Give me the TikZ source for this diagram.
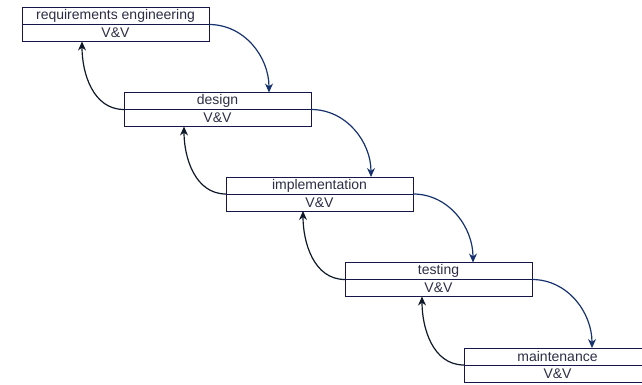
\documentclass[tikz,border=0pt]{standalone}
\usepackage{fontspec}
\setmainfont{Liberation Sans}
\usetikzlibrary{calc,arrows.meta}
\definecolor{boxc}{RGB}{22,22,72}
\definecolor{txtc}{RGB}{45,45,70}
\definecolor{fwdc}{RGB}{22,50,110}
\definecolor{backc}{RGB}{14,24,40}
\tikzset{
  part/.style={draw=boxc, line width=1pt, minimum width=187pt, minimum height=17pt,
    inner sep=0pt, outer sep=0pt, text=txtc, font=\fontsize{14}{15}\selectfont},
  fwd/.style={draw=fwdc, line width=1.2pt, -{Stealth[length=9pt,width=8pt]}},
  back/.style={draw=backc, line width=1.2pt, -{Stealth[length=9pt,width=8pt]}}
}
\begin{document}
\begin{tikzpicture}[x=1pt,y=-1pt]
\useasboundingbox (0,0) rectangle (642,385);
\clip (0,0) rectangle (642,385);
\node[part, anchor=north west] (t1) at (22,7.5) {requirements engineering};
\node[part, anchor=north] (v1) at (t1.south) {V\&V};
\node[part, anchor=north west] (t2) at (124,92.5) {design};
\node[part, anchor=north] (v2) at (t2.south) {V\&V};
\node[part, anchor=north west] (t3) at (226,177) {implementation};
\node[part, anchor=north] (v3) at (t3.south) {V\&V};
\node[part, anchor=north west] (t4) at (345,262.5) {testing};
\node[part, anchor=north] (v4) at (t4.south) {V\&V};
\node[part, anchor=north west] (t5) at (464,348) {maintenance};
\node[part, anchor=north] (v5) at (t5.south) {V\&V};
% forward arrow targets
\coordinate (f1) at ($(t1.south east)+(60,0)$);
\coordinate (f2) at ($(t2.south east)+(60,0)$);
\coordinate (f3) at ($(t3.south east)+(60,0)$);
\coordinate (f4) at ($(t4.south east)+(60,0)$);
% back arrow targets
\coordinate (b1) at ($(t2.south west)+(-42,0)$);
\coordinate (b2) at ($(t3.south west)+(-42,0)$);
\coordinate (b3) at ($(t4.south west)+(-42,0)$);
\coordinate (b4) at ($(t5.south west)+(-42,0)$);
\draw[fwd] (t1.south east) to[out=0,in=90] (f1 |- t2.north);
\draw[fwd] (t2.south east) to[out=0,in=90] (f2 |- t3.north);
\draw[fwd] (t3.south east) to[out=0,in=90] (f3 |- t4.north);
\draw[fwd] (t4.south east) to[out=0,in=90] (f4 |- t5.north);
\draw[back] (t2.south west) to[out=180,in=-90] (b1 |- v1.south);
\draw[back] (t3.south west) to[out=180,in=-90] (b2 |- v2.south);
\draw[back] (t4.south west) to[out=180,in=-90] (b3 |- v3.south);
\draw[back] (t5.south west) to[out=180,in=-90] (b4 |- v4.south);
\end{tikzpicture}
\end{document}
